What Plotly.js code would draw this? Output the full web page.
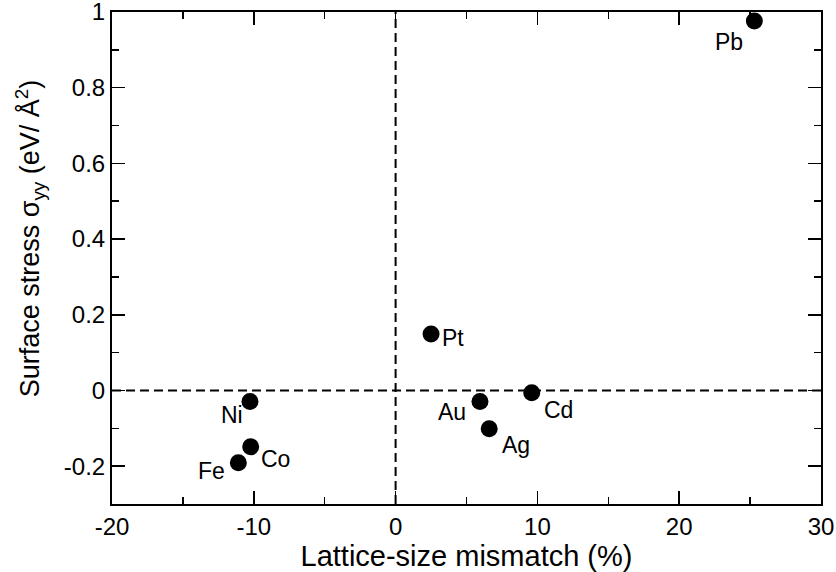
<!DOCTYPE html>
<html>
<head>
<meta charset="utf-8">
<script src="https://cdn.plot.ly/plotly-3.0.1.min.js"></script>
<style>html,body{margin:0;padding:0;background:#fff;}#chart{width:836px;height:572px;}</style>
</head>
<body>
<div id="chart"></div>
<script>
// Data
const elements = ["Pb", "Pt", "Au", "Ag", "Cd", "Ni", "Co", "Fe"];
const mismatch = [25.3, 2.5, 5.95, 6.6, 9.6, -10.27, -10.22, -11.09];
const stress = [0.976, 0.149, -0.029, -0.101, -0.006, -0.029, -0.149, -0.191];
// label offsets in pixels (dx right, dy down)
const labelDx = [-25, 22, -28, 27, 27, -18, 25, -27];
const labelDy = [21, 4, 11, 16, 17, 14, 12, 8];

// Tick values and labels
const xTickVals = [-20, -10, 0, 10, 20, 30];
const xTickText = ["-20", "-10", "0", "10", "20", "30"];
const yTickVals = [-0.2, 0, 0.2, 0.4, 0.6, 0.8, 1];
const yTickText = ["-0.2", "0", "0.2", "0.4", "0.6", "0.8", "1"];

const xTitle = "Lattice-size mismatch (%)";
const yTitle = "Surface stress σ<sub>yy</sub> (eV/ Å<sup>2</sup>)";

const FONT = "Liberation Sans, Arial, Helvetica, sans-serif";

const trace = {
  type: "scatter",
  mode: "markers",
  x: mismatch,
  y: stress,
  text: elements,
  marker: {size: 17, color: "#000", line: {width: 0}},
  hoverinfo: "text",
  cliponaxis: false
};

const annotations = elements.map((el, i) => ({
  x: mismatch[i], y: stress[i], xref: "x", yref: "y",
  text: el, showarrow: false,
  xshift: labelDx[i], yshift: -labelDy[i],
  font: {family: FONT, size: 23, color: "#000"}
}));

// y-axis title as a rotated annotation (placed like the reference)
annotations.push({
  xref: "paper", yref: "paper", x: -82 / 709, y: 0.54,
  xanchor: "center", yanchor: "middle",
  text: yTitle, textangle: -90, showarrow: false,
  font: {family: FONT, size: 27, color: "#000"}
});

const axisCommon = {
  showgrid: false, zeroline: false,
  showline: true, linecolor: "#000", linewidth: 2,
  mirror: "allticks",
  ticks: "inside", ticklen: 13, tickwidth: 1.5, tickcolor: "#000",
  tickfont: {family: FONT, size: 24, color: "#000"},
  tickmode: "array",
  ticklabeloverflow: "allow",
  minor: {ticks: "inside", ticklen: 7, tickwidth: 1.5, tickcolor: "#000"}
};

const layout = {
  width: 836, height: 572,
  margin: {l: 112, r: 15, t: 12, b: 68, pad: 0},
  paper_bgcolor: "#fff", plot_bgcolor: "#fff",
  showlegend: false,
  font: {family: FONT, color: "#000"},
  xaxis: Object.assign({}, axisCommon, {
    range: [-20, 30], tickvals: xTickVals, ticktext: xTickText,
    minor: Object.assign({}, axisCommon.minor, {tickmode: "linear", tick0: -20, dtick: 5}),
    title: {text: xTitle, font: {family: FONT, size: 29, color: "#000"}, standoff: 2},
    automargin: false
  }),
  yaxis: Object.assign({}, axisCommon, {
    range: [-0.3, 1], tickvals: yTickVals, ticktext: yTickText,
    minor: Object.assign({}, axisCommon.minor, {tickmode: "linear", tick0: -0.3, dtick: 0.1}),
    automargin: false
  }),
  shapes: [
    {type: "line", xref: "x", yref: "paper", x0: 0, x1: 0, y0: 0, y1: 1,
     line: {color: "#000", width: 2, dash: "9px,5px"}, layer: "below"},
    {type: "line", xref: "paper", yref: "y", x0: 0, x1: 1, y0: 0, y1: 0,
     line: {color: "#000", width: 2, dash: "9px,5px"}, layer: "below"}
  ],
  annotations: annotations
};

Plotly.newPlot("chart", [trace], layout, {displayModeBar: false, staticPlot: true});
</script>
</body>
</html>
